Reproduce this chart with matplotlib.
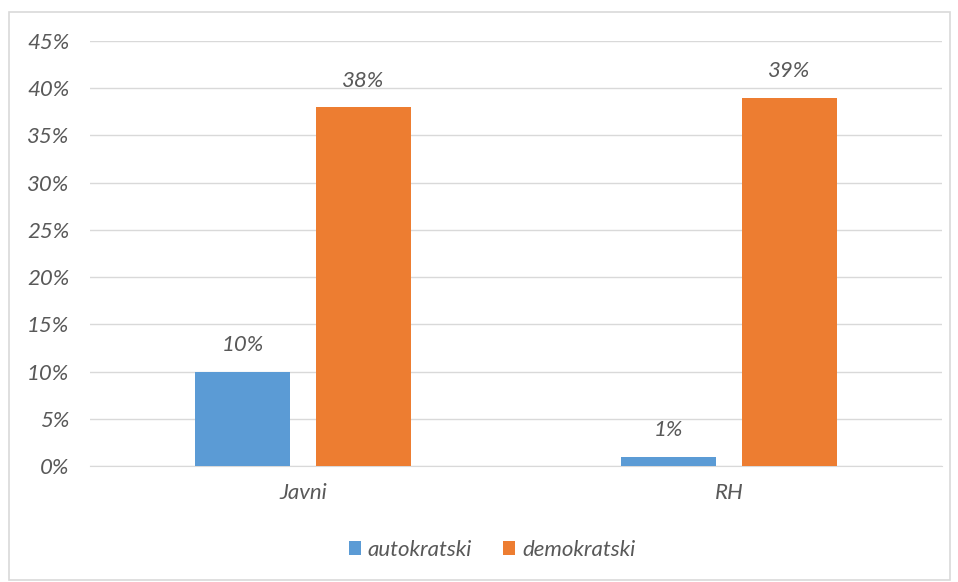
import numpy as np
import matplotlib.pyplot as plt
from matplotlib.patches import Rectangle
from matplotlib.ticker import PercentFormatter

# ========== Data ==========
categories = ['Javni', 'RH']
series_names = ['autokratski', 'demokratski']
autokratski = [10, 1]
demokratski = [38, 39]
colors = ['#5B9BD5', '#ED7D31']

plt.rcParams['font.family'] = ['Lato', 'DejaVu Sans']
plt.rcParams['font.style'] = 'italic'
text_color = '#595959'
fs = 16

fig = plt.figure(figsize=(9.58, 5.82), dpi=100)
ax = fig.add_axes([90 / 958, 1 - 466 / 582, 852 / 958, 425 / 582])

x = np.arange(len(categories))
width = 0.223
offset = 0.142
bars1 = ax.bar(x - offset, autokratski, width, color=colors[0], label=series_names[0], zorder=3)
bars2 = ax.bar(x + offset, demokratski, width, color=colors[1], label=series_names[1], zorder=3)

# value labels above bars
for bars in (bars1, bars2):
    for b in bars:
        ax.annotate(f"{b.get_height():.0f}%", (b.get_x() + b.get_width() / 2, b.get_height()),
                    xytext=(0, 19), textcoords='offset points', ha='center', va='center',
                    fontsize=fs, color=text_color, style='italic')

ax.set_xlim(-0.5, 1.5)
ax.set_ylim(0, 45)
ax.set_yticks(range(0, 46, 5))
ax.yaxis.set_major_formatter(PercentFormatter(decimals=0))
ax.set_xticks(x)
ax.set_xticklabels(categories)
ax.tick_params(axis='both', length=0, labelsize=fs, labelcolor=text_color)
ax.tick_params(axis='y', pad=15)
ax.tick_params(axis='x', pad=12)
for lab in ax.get_xticklabels() + ax.get_yticklabels():
    lab.set_style('italic')

ax.grid(axis='y', color='#D9D9D9', linewidth=1, zorder=0)
for s in ['top', 'right', 'left']:
    ax.spines[s].set_visible(False)
ax.spines['bottom'].set_color('#D9D9D9')

leg = fig.legend(loc='center', bbox_to_anchor=(492 / 958, 1 - 550 / 582), ncol=2, frameon=False,
                 fontsize=fs, handlelength=0.55, handleheight=0.55, handletextpad=0.3, columnspacing=1.4)
for t in leg.get_texts():
    t.set_color(text_color)
    t.set_style('italic')

# outer chart border
fig.patches.append(Rectangle((9 / 958, 2 / 582), 941 / 958, 568 / 582, transform=fig.transFigure,
                             fill=False, edgecolor='#D9D9D9', linewidth=1.2))

plt.savefig('out.png', dpi=100)
